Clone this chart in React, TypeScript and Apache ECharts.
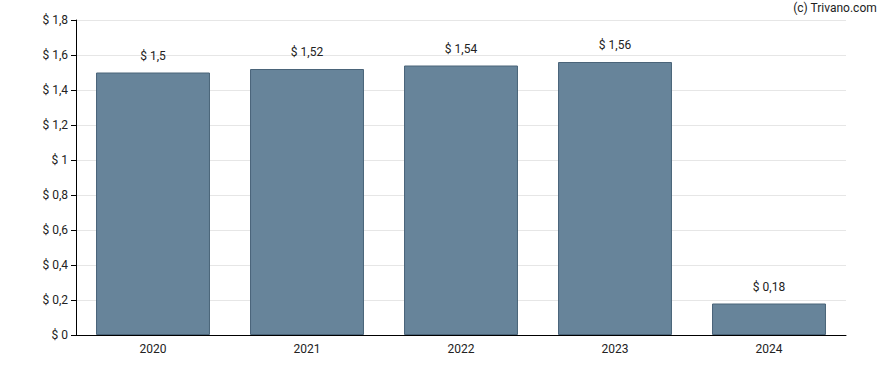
import React, { useEffect, useRef } from "react";
import * as echarts from "echarts";

const categories = ["2020", "2021", "2022", "2023", "2024"];
const values = [1.5, 1.52, 1.54, 1.56, 0.18];
const yTicks = [0, 0.2, 0.4, 0.6, 0.8, 1, 1.2, 1.4, 1.6, 1.8];

const fmt = (v: number) => "$ " + String(v).replace(".", ",");

export default function App() {
  const ref = useRef<HTMLDivElement>(null);
  useEffect(() => {
    document.body.style.margin = "0";
    const chart = echarts.init(ref.current!, null, { renderer: "svg" });
    chart.setOption({
      animation: false,
      textStyle: { fontFamily: "Roboto" },
      graphic: [
        {
          type: "text",
          right: 11,
          top: 2,
          style: { text: "(c) Trivano.com", font: "12px Roboto", fill: "#222" },
        },
      ],
      grid: { left: 76, right: 42, top: 20, bottom: 35 },
      xAxis: {
        type: "category",
        data: categories,
        axisLine: { lineStyle: { color: "#000", width: 1 } },
        axisTick: { alignWithLabel: true, length: 5, lineStyle: { color: "#000" } },
        axisLabel: { color: "#222", fontSize: 12, margin: 8 },
      },
      yAxis: {
        type: "value",
        min: yTicks[0],
        max: yTicks[yTicks.length - 1],
        interval: 0.2,
        axisLine: { show: true, lineStyle: { color: "#000", width: 1 } },
        axisTick: { show: true, length: 5, lineStyle: { color: "#000" } },
        axisLabel: {
          color: "#222",
          fontSize: 12,
          margin: 8,
          formatter: (v: number) => fmt(Math.round(v * 10) / 10),
        },
        splitLine: { lineStyle: { color: "#e6e6e6", width: 1 } },
      },
      series: [
        {
          type: "bar",
          data: values,
          barCategoryGap: "26%",
          itemStyle: { color: "#67849a", borderColor: "#4a6479", borderWidth: 1 },
          label: {
            show: true,
            position: "top",
            distance: 11,
            color: "#222",
            fontSize: 12,
            formatter: (p: any) => fmt(p.value),
          },
        },
      ],
    });
    return () => chart.dispose();
  }, []);
  return <div ref={ref} style={{ width: 888, height: 370 }} />;
}
